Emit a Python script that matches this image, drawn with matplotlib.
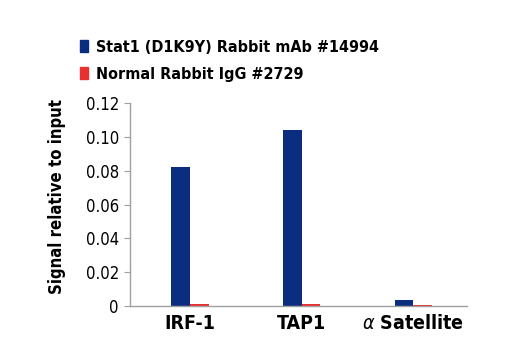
import numpy as np
import matplotlib.pyplot as plt
from matplotlib.patches import Patch

categories = ['IRF-1', 'TAP1', r'$\alpha$ Satellite']
stat1_values = [0.0825, 0.104, 0.0035]
igg_values = [0.0009, 0.0009, 0.0007]
series_names = ['Stat1 (D1K9Y) Rabbit mAb #14994', 'Normal Rabbit IgG #2729']
yticks = [0, 0.02, 0.04, 0.06, 0.08, 0.10, 0.12]
ytick_labels = ['0', '0.02', '0.04', '0.06', '0.08', '0.10', '0.12']

plt.rcParams['font.family'] = ['DejaVu Sans']
plt.rcParams['font.stretch'] = 'condensed'
plt.rcParams['mathtext.fontset'] = 'dejavusans'
blue = '#0b2d80'
red = '#e8312f'
gray = '#a0a0a0'

fig = plt.figure(figsize=(5.2, 3.5), dpi=100)
ax = fig.add_axes([0.25, 0.1257, 0.648, 0.579])

x = np.arange(len(categories))
width = 0.166
ax.bar(x - width / 2, stat1_values, width=width, color=blue)
ax.bar(x + width / 2, igg_values, width=width, color=red)

ax.set_xlim(-0.537, 2.479)
ax.set_ylim(0, 0.12)
ax.set_yticks(yticks)
ax.set_yticklabels(ytick_labels, fontsize=12, stretch='condensed')
ax.set_xticks(x)
ax.set_xticklabels(categories, fontsize=14, fontweight='bold', stretch='condensed')
ax.tick_params(axis='x', length=0, pad=6)
ax.tick_params(axis='y', length=4, color=gray, pad=4)
for s in ['top', 'right']:
    ax.spines[s].set_visible(False)
for s in ['left', 'bottom']:
    ax.spines[s].set_color(gray)
    ax.spines[s].set_linewidth(1)
ax.set_ylabel('Signal relative to input', fontsize=12, fontweight='bold',
              stretch='condensed')
ax.yaxis.set_label_coords(-0.19, 0.54)

handles = [Patch(color=blue), Patch(color=red)]
fig.legend(handles, series_names, loc='upper left', bbox_to_anchor=(0.127, 0.928),
           frameon=False, prop={'size': 11.5, 'weight': 'bold', 'stretch': 'condensed'},
           handlelength=0.5, handleheight=0.85, handletextpad=0.45, labelspacing=0.75)

fig.savefig('out.png', dpi=100)
